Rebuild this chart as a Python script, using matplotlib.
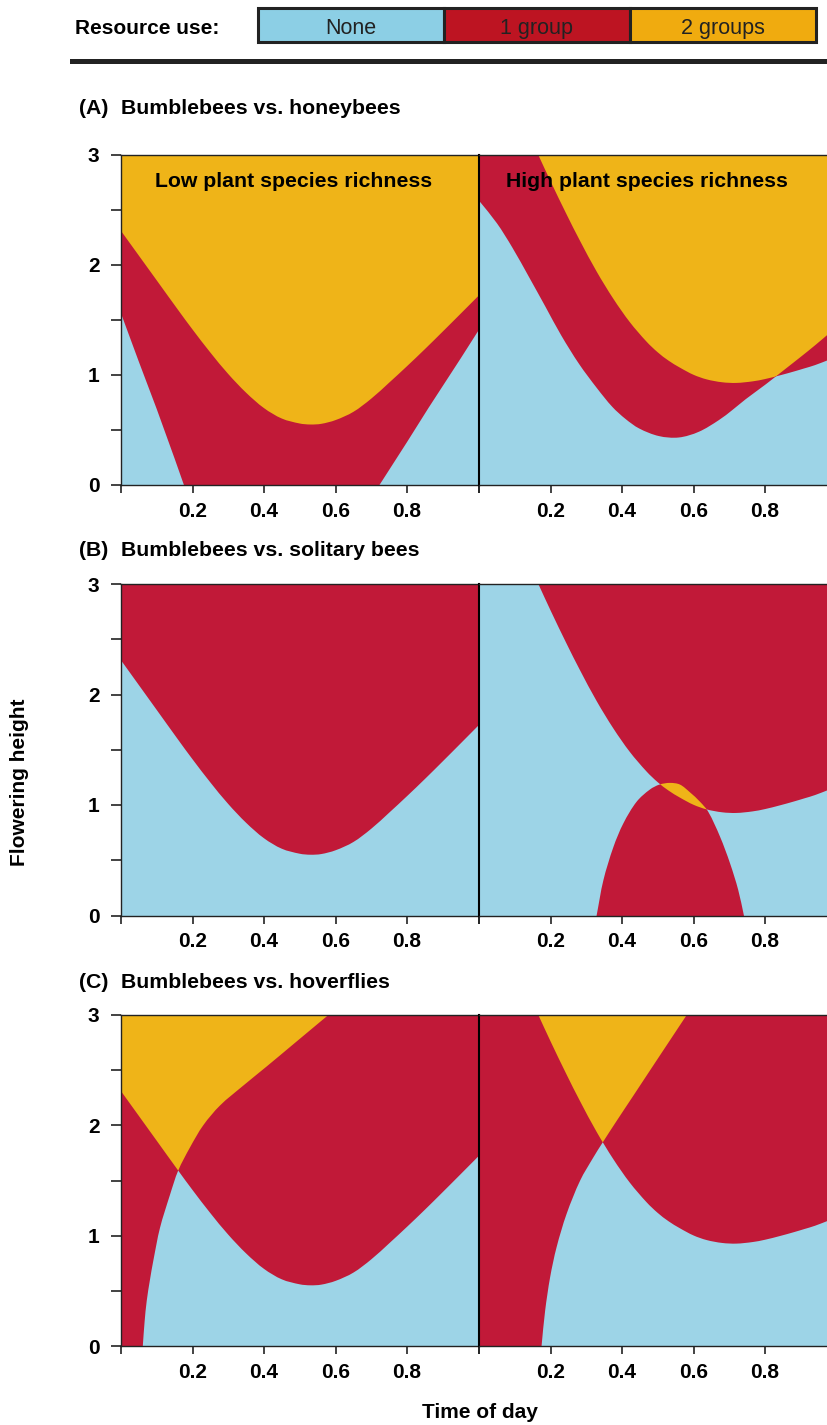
import matplotlib
matplotlib.use("Agg")
import numpy as np
import matplotlib.pyplot as plt
from matplotlib.patches import PathPatch
from matplotlib.path import Path
from matplotlib.lines import Line2D

plt.rcParams['font.family'] = ['Liberation Sans', 'DejaVu Sans']

# ---------------- data ----------------
categories = ['None', '1 group', '2 groups']
legend_colors = ['#8ccfe5', '#bd1422', '#f0ab0f']
panel_colors = ['#9dd4e7', '#c11938', '#efb418']

panel_titles = ['Bumblebees vs. honeybees', 'Bumblebees vs. solitary bees', 'Bumblebees vs. hoverflies']
panel_letters = ['(A)', '(B)', '(C)']
column_titles = ['Low plant species richness', 'High plant species richness']

x_ticks = [0.2, 0.4, 0.6, 0.8]
x_ticklabels = ['0.2', '0.4', '0.6', '0.8']
y_ticks = [0, 1, 2, 3]
y_ticklabels = ['0', '1', '2', '3']

# bumblebee boundary, low richness (used above the curve)
x_U = [0.0, 0.1, 0.16, 0.2, 0.25, 0.3, 0.35, 0.4, 0.45, 0.5, 0.53, 0.56, 0.6,
       0.65, 0.7, 0.75, 0.8, 0.85, 0.9, 0.95, 1.0]
y_U = [2.31, 1.86, 1.59, 1.414, 1.204, 1.009, 0.839, 0.699, 0.604, 0.559, 0.55, 0.556, 0.59,
       0.665, 0.785, 0.93, 1.08, 1.235, 1.395, 1.557, 1.72]

# honeybee boundary, low richness (straight-edged V)
x_L = [0.0, 0.05, 0.1, 0.15, 0.176, 0.723, 0.8, 0.86, 0.9, 0.95, 1.0]
y_L = [1.56, 1.12, 0.69, 0.24, 0.0, 0.0, 0.39, 0.70, 0.90, 1.15, 1.405]

# bumblebee boundary, high richness
x_R = [0.166, 0.20, 0.245, 0.2825, 0.329, 0.376, 0.422, 0.469, 0.50, 0.53, 0.562, 0.60,
       0.637, 0.68, 0.72, 0.765, 0.80, 0.842, 0.88, 0.91, 0.94, 0.98]
y_R = [3.0, 2.762, 2.46, 2.22, 1.941, 1.692, 1.48, 1.302, 1.206, 1.131, 1.067, 1.002,
       0.96, 0.934, 0.928, 0.942, 0.963, 0.997, 1.031, 1.06, 1.09, 1.14]

# honeybee boundary, high richness
x_Q = [0.0, 0.05, 0.093, 0.14, 0.186, 0.23, 0.28, 0.33, 0.373, 0.41, 0.448, 0.503, 0.559,
       0.615, 0.671, 0.71, 0.746, 0.802, 0.853, 0.9, 0.94, 0.98]
y_Q = [2.585, 2.38, 2.16, 1.89, 1.62, 1.36, 1.10, 0.88, 0.71, 0.60, 0.514, 0.445, 0.432,
       0.484, 0.59, 0.685, 0.78, 0.915, 1.045, 1.165, 1.27, 1.38]

# solitary bees, high richness (used below the curve)
x_P = [0.329, 0.348, 0.376, 0.404, 0.441, 0.478, 0.505, 0.534, 0.562, 0.59, 0.618, 0.641,
       0.674, 0.702, 0.725, 0.741]
y_P = [0.0, 0.32, 0.62, 0.835, 1.03, 1.14, 1.185, 1.20, 1.185, 1.115, 1.03, 0.94,
       0.715, 0.474, 0.232, 0.0]

# hoverflies, low richness (used left of the curve)
x_H = [0.061, 0.066, 0.072, 0.081, 0.0905, 0.109, 0.137, 0.160, 0.193, 0.23, 0.277, 0.342,
       0.408, 0.482, 0.58]
y_H = [0.0, 0.22, 0.41, 0.60, 0.775, 1.07, 1.37, 1.59, 1.80, 2.0, 2.18, 2.36,
       2.535, 2.735, 3.0]

# hoverflies, high richness (used left of the curve)
x_H2 = [0.175, 0.185, 0.199, 0.217, 0.245, 0.283, 0.320, 0.346, 0.385, 0.432, 0.488, 0.534, 0.581]
y_H2 = [0.0, 0.32, 0.624, 0.895, 1.197, 1.50, 1.71, 1.845, 2.04, 2.27, 2.545, 2.77, 3.0]

# ---------------- layout ----------------
W, H = 827, 1425
fig = plt.figure(figsize=(W / 100, H / 100), dpi=100)
fig.patch.set_facecolor('white')


def px_axes(x0, y0, x1, y1):
    return fig.add_axes([x0 / W, 1 - y1 / H, (x1 - x0) / W, (y1 - y0) / H])


YTOP, YBOT, XL = 3.3, -0.3, -0.05
YS = 0.31  # aspect of one y unit relative to one x unit on screen


def curve_segments(x, y, smooth=True):
    """Path vertices/codes running through the read points (smooth Bezier rendering)."""
    P = np.column_stack([x, y]).astype(float)
    if not smooth:
        return [tuple(p) for p in P], [Path.MOVETO] + [Path.LINETO] * (len(P) - 1)
    S = P * [1.0, YS]
    d = np.linalg.norm(np.diff(S, axis=0), axis=1)
    n = len(S)
    T = np.zeros_like(S)
    T[0] = (S[1] - S[0]) / d[0]
    T[-1] = (S[-1] - S[-2]) / d[-1]
    for i in range(1, n - 1):
        T[i] = (S[i + 1] - S[i - 1]) / (d[i - 1] + d[i])
    verts = [S[0]]
    codes = [Path.MOVETO]
    for i in range(n - 1):
        verts += [S[i] + T[i] * d[i] / 3, S[i + 1] - T[i + 1] * d[i] / 3, S[i + 1]]
        codes += [Path.CURVE4] * 3
    verts = [(v[0], v[1] / YS) for v in verts]
    return verts, codes


def region(x, y, extra, smooth=True, prefix=None):
    verts, codes = curve_segments(x, y, smooth)
    if prefix is not None:
        verts = [prefix] + verts
        codes = [Path.MOVETO, Path.LINETO] + codes[1:]
    verts = verts + extra + [verts[0]]
    codes = codes + [Path.LINETO] * len(extra) + [Path.CLOSEPOLY]
    return Path(verts, codes)


def above(x, y, smooth=True):
    return region(x, y, [(x[-1], YTOP), (x[0], YTOP)], smooth)


def below(x, y):
    return region(x, y, [(x[-1], YBOT), (x[0], YBOT)])


def left_of(x, y):
    return region(x, y, [(x[-1], YTOP), (XL, YTOP), (XL, YBOT)], prefix=(x[0], YBOT))


panels = [
    [(above(x_U, y_U), above(x_L, y_L, smooth=False)), (above(x_R, y_R), above(x_Q, y_Q))],
    [(above(x_U, y_U), None), (above(x_R, y_R), below(x_P, y_P))],
    [(above(x_U, y_U), left_of(x_H, y_H)), (above(x_R, y_R), left_of(x_H2, y_H2))],
]

rows_px = [(155, 485), (584, 915.5), (1015, 1346)]
title_y = [108, 550, 982]
cols_px = [(121, 478.5), (479, 836.5)]
INK = '#222222'

for r, (top, bot) in enumerate(rows_px):
    fig.text(79 / W, 1 - title_y[r] / H, panel_letters[r], ha='left', va='center',
             fontsize=15.3, fontweight='bold', color='black')
    fig.text(121 / W, 1 - title_y[r] / H, panel_titles[r], ha='left', va='center',
             fontsize=15.3, fontweight='bold', color='black')
    for c, (x0, x1) in enumerate(cols_px):
        ax = px_axes(x0, top, x1, bot)
        ax.set_xlim(0, 1)
        ax.set_ylim(0, 3)
        ax.set_facecolor(panel_colors[0])
        g1, g2 = panels[r][c]
        p1 = PathPatch(g1, facecolor=panel_colors[1], edgecolor='none')
        ax.add_patch(p1)
        if g2 is not None:
            p2 = PathPatch(g2, facecolor=panel_colors[1], edgecolor='none')
            ax.add_patch(p2)
            p3 = PathPatch(g1, facecolor=panel_colors[2], edgecolor='none')
            ax.add_patch(p3)
            p3.set_clip_path(p2)
        # ticks
        ax.set_xticks(x_ticks)
        ax.set_xticklabels(x_ticklabels)
        ax.set_xticks([0, 1], minor=True)
        ax.tick_params(axis='x', which='both', direction='out', length=6, width=1.2,
                       color=INK, labelsize=15, pad=6)
        for lbl in ax.get_xticklabels():
            lbl.set_fontweight('bold')
        if c == 0:
            ax.set_yticks(y_ticks)
            ax.set_yticklabels(y_ticklabels)
            ax.set_yticks([0.5, 1.5, 2.5], minor=True)
            ax.tick_params(axis='y', which='both', direction='out', length=7.5, width=1.2,
                           color=INK, labelsize=15, pad=8)
            for lbl in ax.get_yticklabels():
                lbl.set_fontweight('bold')
        else:
            ax.set_yticks([])
        for name, sp in ax.spines.items():
            sp.set_color(INK)
            sp.set_linewidth(1.0)
        if c == 1:
            ax.spines['left'].set_linewidth(1.5)
            ax.spines['left'].set_color('black')
        if r == 0:
            ax.text(0.4825 if c == 0 else 0.471, 0.921, column_titles[c], transform=ax.transAxes,
                    ha='center', va='center', fontsize=15.3, fontweight='bold', color='black')

# axis labels
fig.text(20 / W, 1 - 782 / H, 'Flowering height', rotation=90, ha='center', va='center',
         fontsize=15, fontweight='bold')
fig.text(480 / W, 1 - 1413 / H, 'Time of day', ha='center', va='center',
         fontsize=15, fontweight='bold')

# legend
fig.text(75 / W, 1 - 26 / H, 'Resource use:', ha='left', va='center_baseline', fontsize=15,
         fontweight='bold')
lax = px_axes(258, 8, 816, 42)
lax.set_xlim(0, len(categories))
lax.set_ylim(0, 1)
pos = np.arange(len(categories)) + 0.5
bars = lax.bar(pos, [1] * len(categories), width=1, bottom=0, color=legend_colors,
               edgecolor=INK, linewidth=2.2, clip_on=False)
for p, lab in zip(pos, categories):
    lax.text(p, 0.48, lab, ha='center', va='center_baseline', fontsize=15.5, color=INK)
lax.axis('off')

fig.add_artist(Line2D([72 / W, 1.0], [1 - 61 / H, 1 - 61 / H], color=INK, linewidth=3.6,
                      transform=fig.transFigure))

fig.savefig('out.png', dpi=100)
